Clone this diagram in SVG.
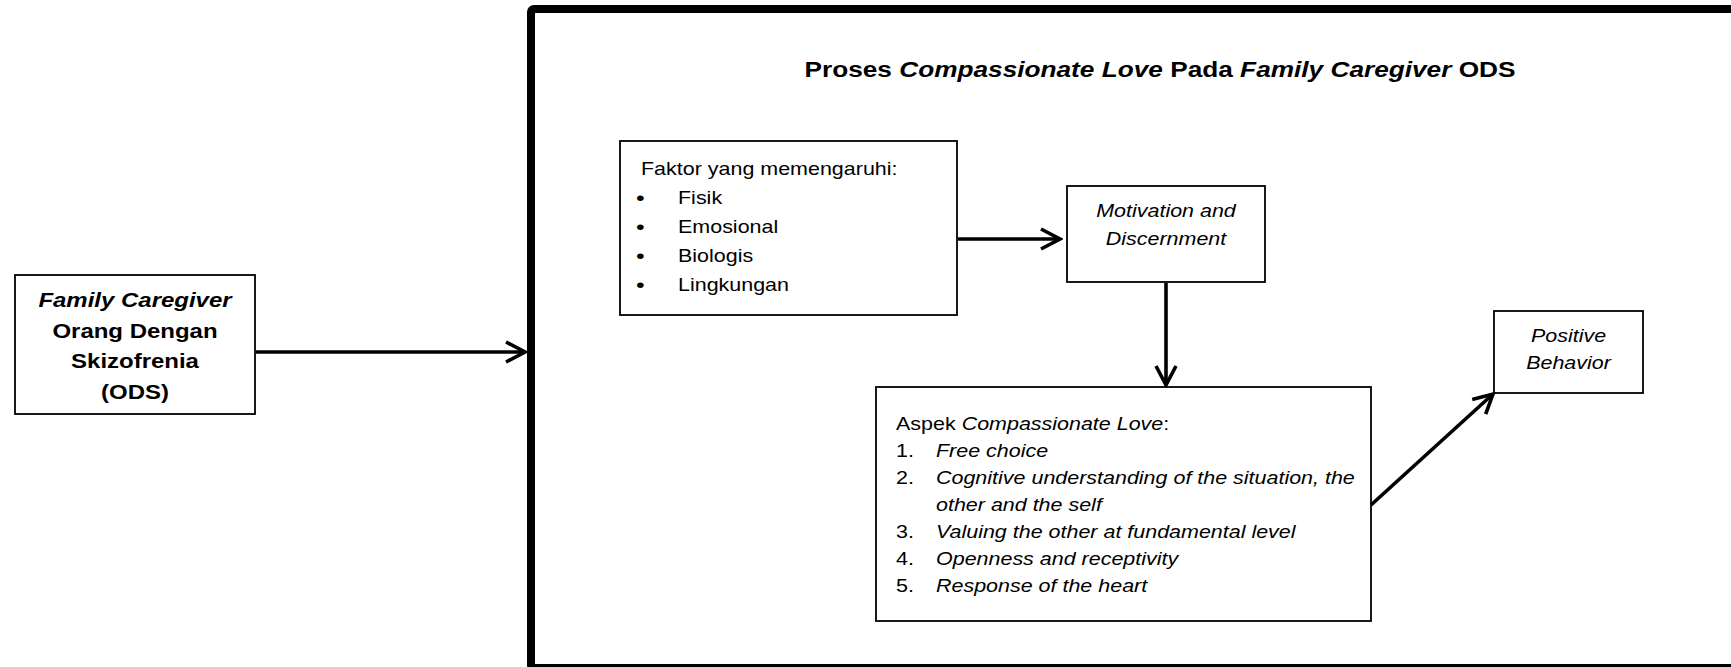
<svg xmlns="http://www.w3.org/2000/svg" width="1731" height="667" viewBox="0 0 1731 667">
<style>
.box{fill:#fff;stroke:#000;stroke-width:1.8}
.frame{fill:#fff;stroke:#000;stroke-width:8}
.t{font-family:"Liberation Sans",Arial,sans-serif;font-size:19px;fill:#000}
.b{font-family:"Liberation Sans",Arial,sans-serif;font-size:19.5px;font-weight:bold;fill:#000}
.ttl{font-family:"Liberation Sans",Arial,sans-serif;font-size:21.5px;font-weight:bold;fill:#000}
.i{font-style:italic}
.conn{fill:none;stroke:#000;stroke-width:3.6}
</style>
<defs>
<marker id="arr" viewBox="0 0 24 24" refX="21" refY="12" markerWidth="24" markerHeight="24" markerUnits="userSpaceOnUse" orient="auto">
<path d="M2,2 L21,12 L2,22" fill="none" stroke="#000" stroke-width="3.6"/>
</marker>
</defs>
<g id="frame">
<rect class="frame" x="531" y="9" width="1210" height="659" rx="3"/>
<text class="ttl" text-anchor="middle" transform="translate(1160 77) scale(1.22 1)">Proses <tspan class="i">Compassionate Love</tspan> Pada <tspan class="i">Family Caregiver</tspan> ODS</text>
</g>
<g id="family">
<rect class="box" x="15" y="275" width="240" height="139"/>
<text class="b i" text-anchor="middle" transform="translate(135 307) scale(1.23 1)">Family Caregiver</text>
<text class="b" text-anchor="middle" transform="translate(135 337.5) scale(1.23 1)">Orang Dengan</text>
<text class="b" text-anchor="middle" transform="translate(135 368) scale(1.23 1)">Skizofrenia</text>
<text class="b" text-anchor="middle" transform="translate(135 398.5) scale(1.23 1)">(ODS)</text>
</g>
<g id="faktor">
<rect class="box" x="620" y="141" width="337" height="174"/>
<text class="t" transform="translate(641 175) scale(1.13 1)">Faktor yang memengaruhi:</text>
<text class="t" transform="translate(636 205) scale(1.3 1.1)">•</text>
<text class="t" transform="translate(678 204) scale(1.13 1)">Fisik</text>
<text class="t" transform="translate(636 234) scale(1.3 1.1)">•</text>
<text class="t" transform="translate(678 233) scale(1.13 1)">Emosional</text>
<text class="t" transform="translate(636 263) scale(1.3 1.1)">•</text>
<text class="t" transform="translate(678 262) scale(1.13 1)">Biologis</text>
<text class="t" transform="translate(636 292) scale(1.3 1.1)">•</text>
<text class="t" transform="translate(678 291) scale(1.13 1)">Lingkungan</text>
</g>
<g id="motivation">
<rect class="box" x="1067" y="186" width="198" height="96"/>
<text class="t i" text-anchor="middle" transform="translate(1166 217) scale(1.13 1)">Motivation and</text>
<text class="t i" text-anchor="middle" transform="translate(1166 245) scale(1.13 1)">Discernment</text>
</g>
<g id="aspek">
<rect class="box" x="876" y="387" width="495" height="234"/>
<text class="t" transform="translate(896 430) scale(1.13 1)">Aspek <tspan class="i">Compassionate Love</tspan>:</text>
<text class="t" transform="translate(896 457) scale(1.13 1)">1.</text>
<text class="t i" transform="translate(936 457) scale(1.13 1)">Free choice</text>
<text class="t" transform="translate(896 484) scale(1.13 1)">2.</text>
<text class="t i" transform="translate(936 484) scale(1.13 1)">Cognitive understanding of the situation, the</text>
<text class="t i" transform="translate(936 511) scale(1.13 1)">other and the self</text>
<text class="t" transform="translate(896 538) scale(1.13 1)">3.</text>
<text class="t i" transform="translate(936 538) scale(1.13 1)">Valuing the other at fundamental level</text>
<text class="t" transform="translate(896 565) scale(1.13 1)">4.</text>
<text class="t i" transform="translate(936 565) scale(1.13 1)">Openness and receptivity</text>
<text class="t" transform="translate(896 592) scale(1.13 1)">5.</text>
<text class="t i" transform="translate(936 592) scale(1.13 1)">Response of the heart</text>
</g>
<g id="positive">
<rect class="box" x="1494" y="311" width="149" height="82"/>
<text class="t i" text-anchor="middle" transform="translate(1568.5 342) scale(1.13 1)">Positive</text>
<text class="t i" text-anchor="middle" transform="translate(1568.5 369) scale(1.13 1)">Behavior</text>
</g>
<g id="connectors">
<line class="conn" x1="256" y1="352" x2="525" y2="352" marker-end="url(#arr)"/>
<line class="conn" x1="958" y1="239" x2="1060" y2="239" marker-end="url(#arr)"/>
<line class="conn" x1="1166" y1="283" x2="1166" y2="385" marker-end="url(#arr)"/>
<line class="conn" x1="1371" y1="505" x2="1493" y2="394" marker-end="url(#arr)"/>
</g>
</svg>
